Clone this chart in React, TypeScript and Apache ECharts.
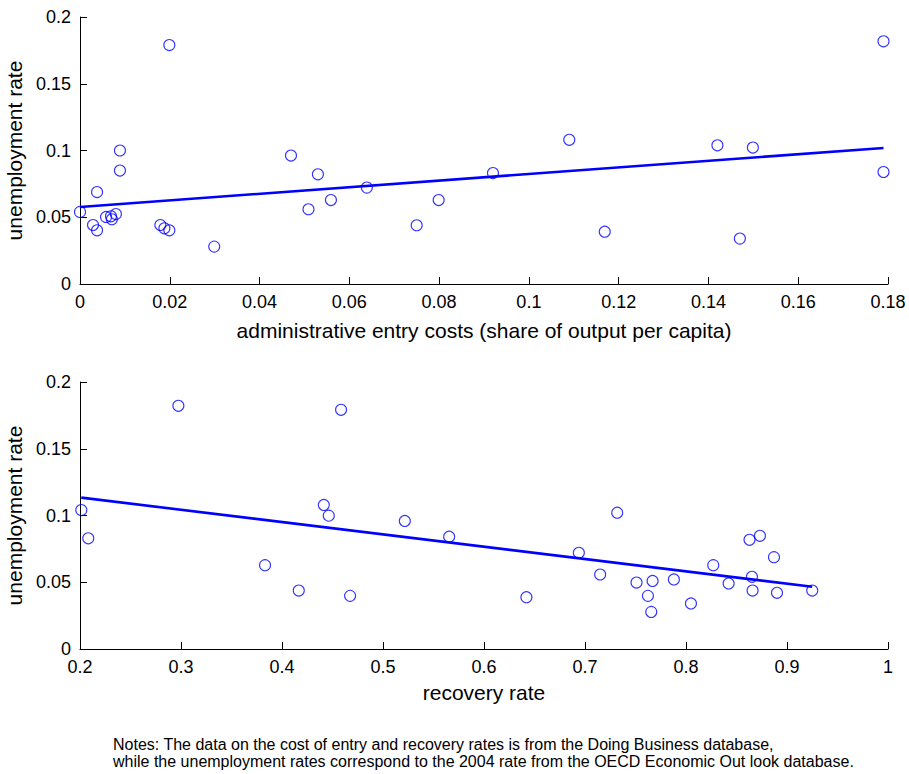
import React, { useEffect, useRef } from "react";
import * as echarts from "echarts";

// Panel 1: administrative entry costs vs unemployment rate
const entryCost = [
  0.0, 0.0029, 0.0038, 0.0038, 0.0058, 0.0069, 0.0071, 0.008, 0.0089, 0.0089,
  0.0179, 0.0188, 0.0199, 0.0199, 0.0299, 0.047, 0.0509, 0.053, 0.0559, 0.0639,
  0.075, 0.0799, 0.092, 0.109, 0.1169, 0.142, 0.1499, 0.147, 0.179, 0.179,
];
const unempByEntry = [
  0.054, 0.0442, 0.0402, 0.0689, 0.0502, 0.0507, 0.0485, 0.0524, 0.1, 0.085,
  0.0442, 0.0417, 0.0402, 0.179, 0.028, 0.0962, 0.056, 0.0822, 0.0629, 0.0722,
  0.044, 0.0629, 0.0831, 0.108, 0.0392, 0.1039, 0.1022, 0.034, 0.1818, 0.0839,
];
const entryFitX = [0, 0.179];
const entryFitY = [0.0577, 0.1019];

// Panel 2: recovery rate vs unemployment rate
const recoveryRate = [
  0.2013, 0.2082, 0.2974, 0.3832, 0.4166, 0.4414, 0.4463, 0.4585, 0.4674, 0.5216,
  0.5655, 0.642, 0.6939, 0.715, 0.7319, 0.751, 0.7623, 0.7669, 0.7656, 0.788,
  0.8049, 0.827, 0.8422, 0.8629, 0.8732, 0.8871, 0.8653, 0.8659, 0.8901, 0.925,
];
const unempByRecovery = [
  0.1041, 0.0829, 0.1822, 0.0628, 0.0438, 0.1079, 0.0999, 0.1792, 0.0398, 0.0959,
  0.0841, 0.0388, 0.0721, 0.0558, 0.1021, 0.0498, 0.0398, 0.051, 0.0278, 0.0521,
  0.0341, 0.0628, 0.0491, 0.0818, 0.0848, 0.0688, 0.0541, 0.0438, 0.0421, 0.0438,
];
const recoveryFitX = [0.2013, 0.925];
const recoveryFitY = [0.1134, 0.0466];

const yTicks = [0, 0.05, 0.1, 0.15, 0.2];

const noteLines = [
  "Notes: The data on the cost of entry and recovery rates is from the Doing Business database,",
  "while the unemployment rates correspond to the 2004 rate from the OECD Economic Out look database.",
];

const FONT = "'Liberation Sans', Arial, Helvetica, sans-serif";
const BLUE = "#0000ff";

const zip = (xs: number[], ys: number[]) => xs.map((x, i) => [x, ys[i]]);

function valueAxis(gridIndex: number, extra: any) {
  return {
    type: "value",
    gridIndex,
    splitLine: { show: false },
    axisLine: { show: true, onZero: false, lineStyle: { color: "#000", width: 1 } },
    axisTick: { show: true, inside: true, length: 7, lineStyle: { color: "#000", width: 1 } },
    axisLabel: { color: "#000", fontSize: 18, fontFamily: FONT, margin: 9 },
    nameTextStyle: { color: "#000", fontSize: 21, fontFamily: FONT },
    ...extra,
  };
}

export default function App() {
  const ref = useRef<HTMLDivElement>(null);

  useEffect(() => {
    if (!ref.current) return;
    const chart = echarts.init(ref.current, null, { renderer: "svg" });
    const yCommon = {
      min: yTicks[0],
      max: yTicks[yTicks.length - 1],
      interval: 0.05,
      name: "unemployment rate",
      nameLocation: "middle",
      nameGap: 45,
    };
    chart.setOption({
      animation: false,
      backgroundColor: "#fff",
      grid: [
        { left: 80, top: 17, width: 808, height: 267, outerBoundsMode: "none", containLabel: false },
        { left: 80, top: 382, width: 808, height: 267, outerBoundsMode: "none", containLabel: false },
      ],
      xAxis: [
        valueAxis(0, {
          min: 0,
          max: 0.18,
          interval: 0.02,
          name: "administrative entry costs (share of output per capita)",
          nameLocation: "middle",
          nameGap: 36,
        }),
        valueAxis(1, {
          min: 0.2,
          max: 1,
          interval: 0.1,
          name: "recovery rate",
          nameLocation: "middle",
          nameGap: 33,
        }),
      ],
      yAxis: [valueAxis(0, yCommon), valueAxis(1, yCommon)],
      series: [
        {
          type: "scatter",
          xAxisIndex: 0,
          yAxisIndex: 0,
          data: zip(entryCost, unempByEntry),
          symbol: "circle",
          symbolSize: 11,
          itemStyle: { color: "none", borderColor: BLUE, borderWidth: 1.1 },
          silent: true,
        },
        {
          type: "line",
          xAxisIndex: 0,
          yAxisIndex: 0,
          data: zip(entryFitX, entryFitY),
          showSymbol: false,
          lineStyle: { color: BLUE, width: 2.6 },
          silent: true,
        },
        {
          type: "scatter",
          xAxisIndex: 1,
          yAxisIndex: 1,
          data: zip(recoveryRate, unempByRecovery),
          symbol: "circle",
          symbolSize: 11,
          itemStyle: { color: "none", borderColor: BLUE, borderWidth: 1.1 },
          silent: true,
        },
        {
          type: "line",
          xAxisIndex: 1,
          yAxisIndex: 1,
          data: zip(recoveryFitX, recoveryFitY),
          showSymbol: false,
          lineStyle: { color: BLUE, width: 2.6 },
          silent: true,
        },
      ],
      graphic: noteLines.map((line, i) => ({
        type: "text",
        left: 113,
        top: 736 + i * 17,
        style: {
          text: line,
          fill: "#000",
          font: `16px ${FONT}`,
        },
      })),
    });
    return () => chart.dispose();
  }, []);

  return (
    <div
      ref={ref}
      style={{ position: "absolute", left: 0, top: 0, width: 909, height: 774 }}
    />
  );
}
